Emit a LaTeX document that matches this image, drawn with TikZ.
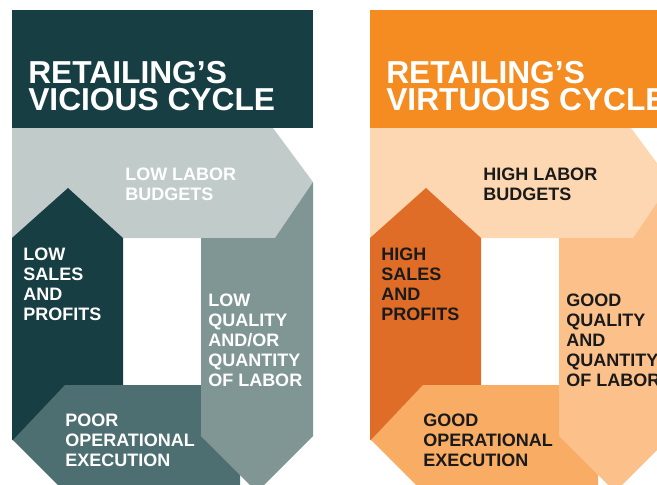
\documentclass[tikz,border=0pt]{standalone}
\usepackage{fontspec}
\setmainfont{Liberation Sans}
\usetikzlibrary{calc}

% colours of the two panels
\definecolor{vicTitle}{HTML}{173E42}
\definecolor{vicTop}{HTML}{C1CCCA}
\definecolor{vicLeft}{HTML}{173E42}
\definecolor{vicBand}{HTML}{4E6F71}
\definecolor{vicRight}{HTML}{7F9695}
\definecolor{virTitle}{HTML}{F48C21}
\definecolor{virTop}{HTML}{FDD7B1}
\definecolor{virLeft}{HTML}{DF6C27}
\definecolor{virBand}{HTML}{F8AC64}
\definecolor{virRight}{HTML}{FCC18A}
\definecolor{ink}{HTML}{1A1A1A}

\tikzset{
	titletext/.style={anchor=base west, align=left, inner sep=0pt, text=white,
		font=\bfseries\fontsize{23.8}{20.25}\selectfont},
	labeltext/.style={anchor=base west, align=left, inner sep=0pt,
		font=\bfseries\fontsize{13.5}{15}\selectfont}
}

% one cycle panel: shift, colour prefix, text colour, title word, four labels
% (a label node sits on the baseline of its last line)
\newcommand{\cyclepanel}[8]
	{
	\begin{scope}[shift={(#1,0)}]
	\coordinate (#2-tip) at (313,182);%arrow point
	\coordinate (#2-notch) at (275,238);
	% title block
	\fill[#2Title] (12,10) rectangle (313,128);
	% top arrow
	\fill[#2Top] (12,128) -- (273,128) -- (#2-tip) -- (#2-notch) -- (12,238) -- cycle;
	% left column, pointing up
	\fill[#2Left] (12,238) -- (68,188) -- (123,238) -- (123,440) -- (12,440) -- cycle;
	% bottom band, pointing left
	\fill[#2Band] (65,385) -- (240,385) -- (240,500) -- (73,500) -- (13,440) -- cycle;
	% right column, pointing down
	\fill[#2Right] (201,238) -- (#2-notch) -- (#2-tip) -- (313,436) -- (257,492) -- (201,436) -- cycle;
	% texts
	\node[titletext] (#2-title) at (28,110) {RETAILING’S\\#4 CYCLE};
	\node[labeltext, text=#3] (#2-budget) at (125,200) {#5};
	\node[labeltext, text=#3] (#2-sales) at (23,320) {#6};
	\node[labeltext, text=#3] (#2-labor) at (208,386) {#7};
	\node[labeltext, text=#3] (#2-exec) at (65,466) {#8};
	\end{scope}
	}

\begin{document}
\begin{tikzpicture}[x=0.75pt,y=-0.75pt]
\useasboundingbox (0,0) rectangle (657,485);
\clip (0,0) rectangle (657,485);

% vicious cycle
\cyclepanel{0}{vic}{white}{VICIOUS}
	{LOW LABOR\\BUDGETS}
	{LOW\\SALES\\AND\\PROFITS}
	{LOW\\QUALITY\\AND/OR\\QUANTITY\\OF LABOR}
	{POOR\\OPERATIONAL\\EXECUTION}

% virtuous cycle
\cyclepanel{358}{vir}{ink}{VIRTUOUS}
	{HIGH LABOR\\BUDGETS}
	{HIGH\\SALES\\AND\\PROFITS}
	{GOOD\\QUALITY\\AND\\QUANTITY\\OF LABOR}
	{GOOD\\OPERATIONAL\\EXECUTION}

\end{tikzpicture}
\end{document}
